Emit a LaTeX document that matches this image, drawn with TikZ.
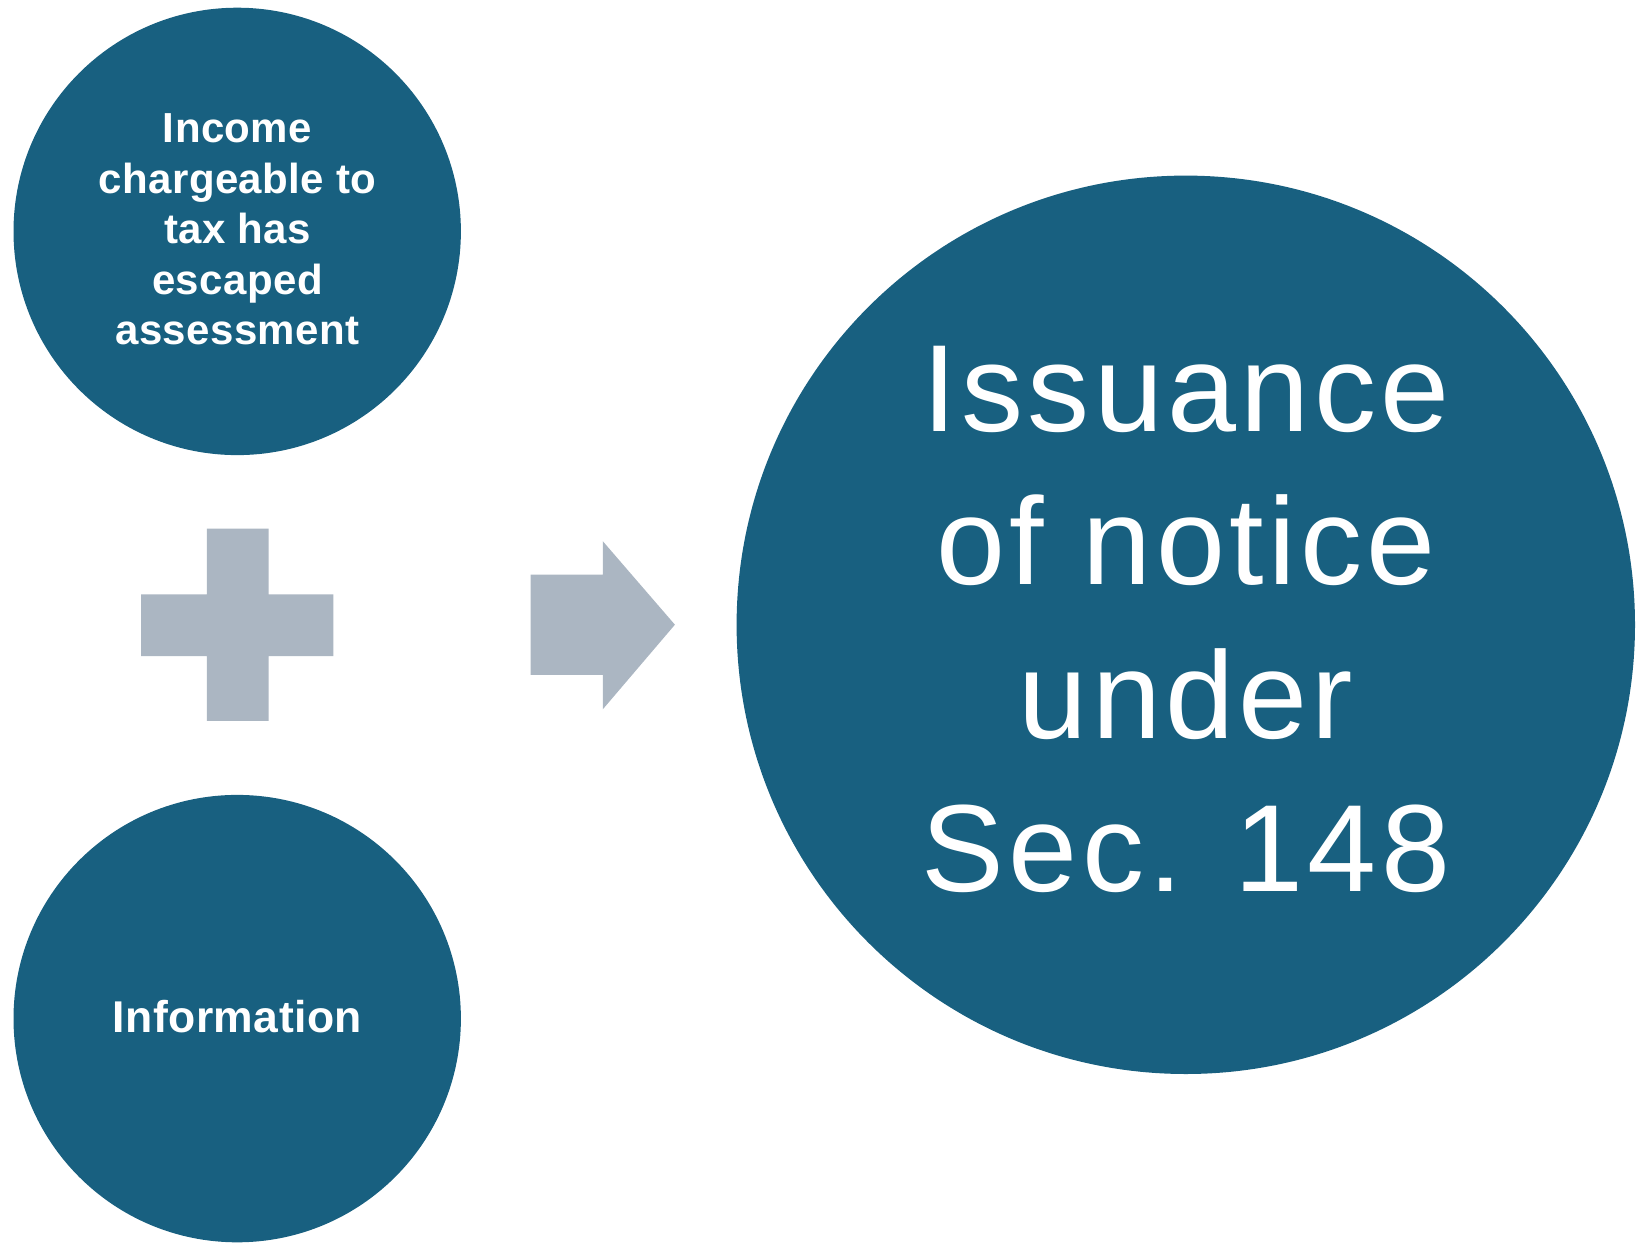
\documentclass[tikz,border=0pt]{standalone}
\usepackage{fontspec}
\setmainfont{Liberation Sans}
\newfontfamily\smallface{Liberation Sans}[LetterSpace=1.0]
\newfontfamily\bigface{Liberation Sans}[LetterSpace=3.5]
\definecolor{discblue}{RGB}{24,96,128}
\definecolor{markgray}{RGB}{171,182,194}
\begin{document}
\begin{tikzpicture}[x=1pt,y=-1pt,
  disc/.style={circle,fill=discblue,draw=none,inner sep=0pt},
  smalltxt/.style={text=white,align=center,inner sep=0pt,
    font=\smallface\bfseries\fontsize{42}{50.5}\selectfont},
  bigtxt/.style={text=white,align=center,inner sep=0pt,
    font=\bigface\fontsize{124}{153.5}\selectfont},
  glyph/.style={fill=markgray,draw=none}]
  \useasboundingbox (0,0) rectangle (1638,1242);

  % circles
  \node[disc,minimum size=447.4pt] (income) at (237.2,231.4) {};
  \node[disc,minimum size=447.4pt] (info) at (237.2,1018.6) {};
  \node[disc,minimum size=898.4pt] (notice) at (1185.8,624.8) {};

  % circle labels
  \node[smalltxt] (incometxt) at (237.5,229.5) {Income\\chargeable to\\tax has\\escaped\\assessment};
  \node[smalltxt,font=\smallface\bfseries\fontsize{44.5}{52}\selectfont] (infotxt) at (237.5,1017) {Information};
  \node[bigtxt] (noticetxt) at (1186,619.5) {Issuance\\of notice\\under\\Sec. 148};

  % plus sign
  \fill[glyph] (206.8,528.6) -- (268.5,528.6) -- (268.5,594.4) -- (333.3,594.4)
    -- (333.3,656.1) -- (268.5,656.1) -- (268.5,720.8) -- (206.8,720.8)
    -- (206.8,656.1) -- (141,656.1) -- (141,594.4) -- (206.8,594.4) -- cycle;

  % block arrow
  \fill[glyph] (530.7,574.6) -- (602.8,574.6) -- (602.8,541.2) -- (674.9,624.7)
    -- (602.8,709.3) -- (602.8,674.9) -- (530.7,674.9) -- cycle;
\end{tikzpicture}
\end{document}
